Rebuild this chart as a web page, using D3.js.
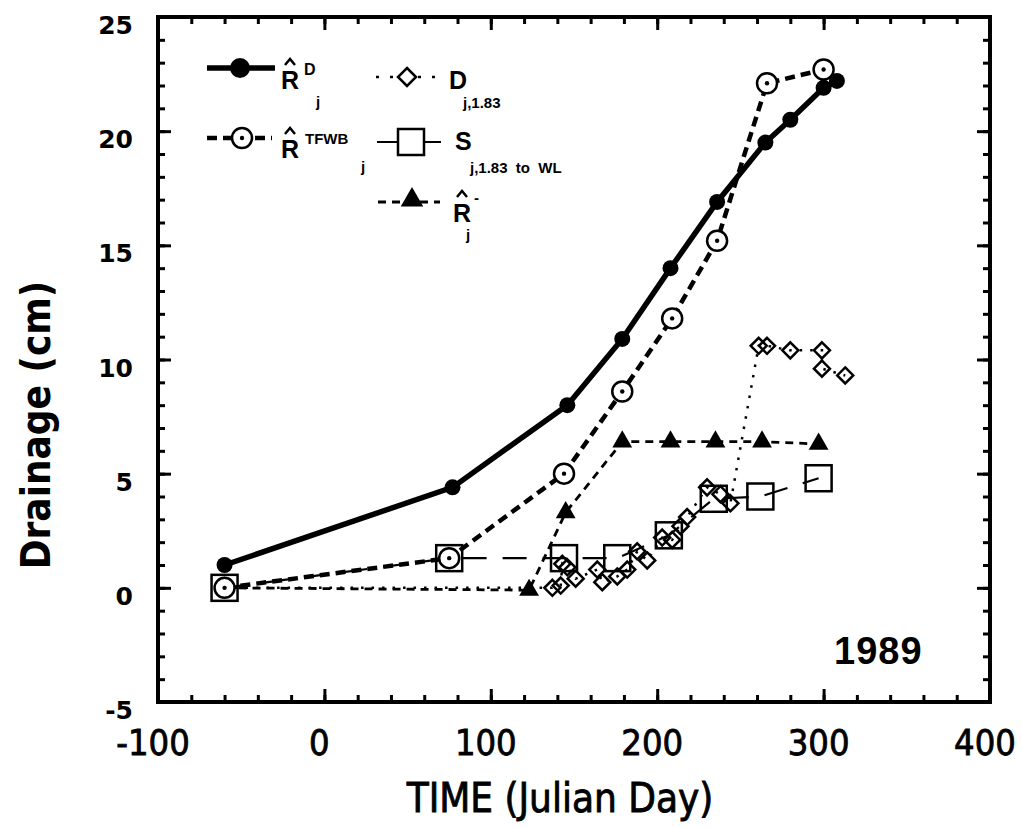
<!DOCTYPE html>
<html>
<head>
<meta charset="utf-8">
<script src="https://cdn.jsdelivr.net/npm/d3@7"></script>
<style>
  body { margin: 0; background: #fff; }
  svg { display: block; }
</style>
</head>
<body>
<svg id="chart" width="1022" height="828"></svg>
<script>
// --- data ---
const rdX = [-60, 77, 146, 179, 208, 236, 265, 280, 300, 308];
const rdY = [1.0, 4.4, 8.0, 10.9, 14.0, 16.9, 19.5, 20.5, 21.9, 22.2];

const tfwbX = [-60, 75, 144, 179, 209, 236, 266, 300];
const tfwbY = [0, 1.3, 5.0, 8.6, 11.8, 15.2, 22.1, 22.7];

const rMinusX = [-60, 123, 145, 179, 208, 235, 263, 297];
const rMinusY = [0, -0.1, 3.3, 6.4, 6.4, 6.4, 6.4, 6.3];

const sX = [-60, 75, 144, 176, 207, 234, 262, 297];
const sY = [0, 1.3, 1.3, 1.3, 2.3, 3.9, 4.0, 4.8];

const dX = [-60, 137, 142, 143, 146, 151, 164, 167, 176, 182, 188, 194, 203, 209, 214, 218, 230, 238, 244, 261, 266, 280, 299, 299, 313];
const dY = [0, 0, 0.1, 1.05, 0.9, 0.4, 0.8, 0.25, 0.5, 0.8, 1.6, 1.2, 2.2, 2.1, 2.7, 3.1, 4.4, 4.1, 3.7, 10.6, 10.6, 10.4, 10.4, 9.6, 9.3];

const xTicks = [-100, 0, 100, 200, 300, 400];
const yTicks = [-5, 0, 5, 10, 15, 20, 25];

const zip = (xs, ys) => xs.map((v, i) => [v, ys[i]]);

const svg = d3.select('#chart');
const L = 158, R = 990, T = 17, B = 702;
const x = d3.scaleLinear().domain([-100, 400]).range([L, R]);
const y = d3.scaleLinear().domain([-5, 25]).range([B, T]);

// ticks pointing inward on all four sides
function ticks(axisFn, values, size, tr) {
  const g = svg.append('g').attr('transform', tr)
    .call(axisFn.tickValues(values).tickSize(-size).tickFormat(''));
  g.select('.domain').remove();
  g.selectAll('line').attr('stroke', '#000').attr('stroke-width', 3);
}
const xMinor = d3.range(-100, 401, 20), yMinor = d3.range(-5, 25.1, 1);
ticks(d3.axisBottom(x), xMinor, 7, `translate(0,${B})`);
ticks(d3.axisBottom(x), xTicks, 13, `translate(0,${B})`);
ticks(d3.axisTop(x), xMinor, 7, `translate(0,${T})`);
ticks(d3.axisTop(x), xTicks, 13, `translate(0,${T})`);
ticks(d3.axisLeft(y), yMinor, 7, `translate(${L},0)`);
ticks(d3.axisLeft(y), yTicks, 13, `translate(${L},0)`);
ticks(d3.axisRight(y), yMinor, 7, `translate(${R},0)`);
ticks(d3.axisRight(y), yTicks, 13, `translate(${R},0)`);

svg.append('rect').attr('x', L).attr('y', T).attr('width', R - L).attr('height', B - T)
  .attr('fill', 'none').attr('stroke', '#000').attr('stroke-width', 4);

const narrow = '"Liberation Sans Narrow", "DejaVu Sans Condensed", sans-serif';

// tick labels
svg.append('g').selectAll('text').data(xTicks).enter().append('text')
  .attr('x', d => x(d) - 5).attr('y', 755)
  .attr('text-anchor', 'middle')
  .attr('font-family', narrow)
  .attr('font-size', 36).attr('stroke', '#000').attr('stroke-width', 0.8)
  .text(d => d);

svg.append('g').selectAll('text').data(yTicks).enter().append('text')
  .attr('x', 133).attr('y', d => y(d) + 17)
  .attr('text-anchor', 'end')
  .attr('font-family', '"DejaVu Sans", sans-serif').attr('font-weight', 'bold')
  .attr('font-size', 25)
  .text(d => d);

// axis titles
svg.append('text').attr('x', 560).attr('y', 812).attr('text-anchor', 'middle')
  .attr('font-family', narrow).attr('stroke', '#000').attr('stroke-width', 0.8)
  .attr('font-size', 40).text('TIME (Julian Day)');
svg.append('text').attr('transform', 'translate(50,425) rotate(-90)').attr('text-anchor', 'middle')
  .attr('font-family', narrow)
  .attr('font-weight', 'bold').attr('font-size', 40).text('Drainage  (cm)');

svg.append('text').attr('x', 834).attr('y', 664)
  .attr('font-family', '"Liberation Sans", sans-serif').attr('font-weight', 'bold')
  .attr('font-size', 38).attr('letter-spacing', 1).text('1989');

// --- series lines ---
const line = d3.line().x(d => x(d[0])).y(d => y(d[1]));
const plot = svg.append('g');
function path(data, w, dash) {
  plot.append('path').datum(data).attr('d', line)
    .attr('fill', 'none').attr('stroke', '#000').attr('stroke-width', w)
    .attr('stroke-dasharray', dash || null);
}
path(zip(dX, dY), 2.5, '2.5,8');
path(zip(sX, sY), 2.2, '24,16');
path(zip(rMinusX, rMinusY), 2.8, '8,6');
path(zip(tfwbX, tfwbY), 4.5, '10,6');
path(zip(rdX, rdY), 5.5);

// --- markers ---
const diamond = (s) => `M0,${-s}L${s},0L0,${s}L${-s},0Z`;
function diamonds(g, pts, s) {
  g.selectAll(null).data(pts).enter().append('path')
    .attr('transform', d => `translate(${x(d[0])},${y(d[1])})`)
    .attr('d', diamond(s)).attr('fill', 'none').attr('stroke', '#000').attr('stroke-width', 2.5);
}
function squares(g, pts, s) {
  g.selectAll(null).data(pts).enter().append('rect')
    .attr('x', d => x(d[0]) - s).attr('y', d => y(d[1]) - s)
    .attr('width', 2 * s).attr('height', 2 * s)
    .attr('fill', 'none').attr('stroke', '#000').attr('stroke-width', 2.5);
}
function triangles(g, pts, size) {
  g.selectAll(null).data(pts).enter().append('path')
    .attr('transform', d => `translate(${x(d[0])},${y(d[1])})`)
    .attr('d', d3.symbol(d3.symbolTriangle, size)).attr('fill', '#000');
}
function openCircles(g, pts, r) {
  const c = g.selectAll(null).data(pts).enter().append('g')
    .attr('transform', d => `translate(${x(d[0])},${y(d[1])})`);
  c.append('circle').attr('r', r).attr('fill', '#fff').attr('stroke', '#000').attr('stroke-width', 2.5);
  c.append('circle').attr('r', 2.2).attr('fill', '#000');
}
function dots(g, pts, r) {
  g.selectAll(null).data(pts).enter().append('circle')
    .attr('cx', d => x(d[0])).attr('cy', d => y(d[1])).attr('r', r).attr('fill', '#000');
}

const mk = svg.append('g');
diamonds(mk, zip(dX, dY), 8);
triangles(mk, zip(rMinusX, rMinusY), 170);
openCircles(mk, zip(tfwbX, tfwbY), 10);
dots(mk, zip(rdX, rdY), 8);
squares(mk, zip(sX, sY), 13);

// --- legend ---
const lg = svg.append('g').attr('font-family', '"Liberation Sans", sans-serif').attr('font-weight', 'bold');
function seg(x1, x2, yy, w, dash) {
  lg.append('line').attr('x1', x1).attr('x2', x2).attr('y1', yy).attr('y2', yy)
    .attr('stroke', '#000').attr('stroke-width', w).attr('stroke-dasharray', dash || null);
}
function txt(tx, ty, size, s) {
  lg.append('text').attr('x', tx).attr('y', ty).attr('font-size', size).text(s);
}
function hat(cx, top) {
  lg.append('path').attr('d', `M${cx - 5},${top - 3}L${cx},${top - 9}L${cx + 5},${top - 3}`)
    .attr('fill', 'none').attr('stroke', '#000').attr('stroke-width', 2.5);
}

// R^D_j
seg(207, 275, 68, 5.5);
lg.append('circle').attr('cx', 240).attr('cy', 68).attr('r', 10).attr('fill', '#000');
txt(281, 89, 25, 'R'); hat(290, 68);
txt(304, 75, 16, 'D'); txt(316, 107, 15, 'j');

// D_j,1.83
seg(376, 442, 77, 2.5, '3,11');
lg.append('path').attr('transform', 'translate(407,77)').attr('d', diamond(9))
  .attr('fill', '#fff').attr('stroke', '#000').attr('stroke-width', 2.5);
txt(449, 89, 25, 'D'); txt(463, 108, 15, 'j,1.83');

// R^TFWB_j
seg(207, 272, 138, 4.5, '10,6');
lg.append('circle').attr('cx', 242).attr('cy', 138).attr('r', 10).attr('fill', '#fff')
  .attr('stroke', '#000').attr('stroke-width', 2.5);
lg.append('circle').attr('cx', 242).attr('cy', 138).attr('r', 2.2).attr('fill', '#000');
txt(281, 158, 25, 'R'); hat(290, 137);
txt(305, 144, 15, 'TFWB'); txt(361, 172, 15, 'j');

// S_j,1.83 to WL
seg(377, 441, 142, 2.2);
lg.append('rect').attr('x', 398).attr('y', 129).attr('width', 26).attr('height', 26)
  .attr('fill', '#fff').attr('stroke', '#000').attr('stroke-width', 2.5);
txt(455, 150, 25, 'S');
lg.append('text').attr('x', 470).attr('y', 173).attr('font-size', 15)
  .attr('xml:space', 'preserve').text('j,1.83  to  WL');

// R^-_j
seg(378, 440, 202, 2.8, '8,6');
lg.append('path').attr('transform', 'translate(412,200)').attr('d', d3.symbol(d3.symbolTriangle, 220)).attr('fill', '#000');
txt(453, 222, 25, 'R'); hat(462, 200);
txt(474, 203, 15, '-'); txt(466, 240, 15, 'j');
</script>
</body>
</html>
